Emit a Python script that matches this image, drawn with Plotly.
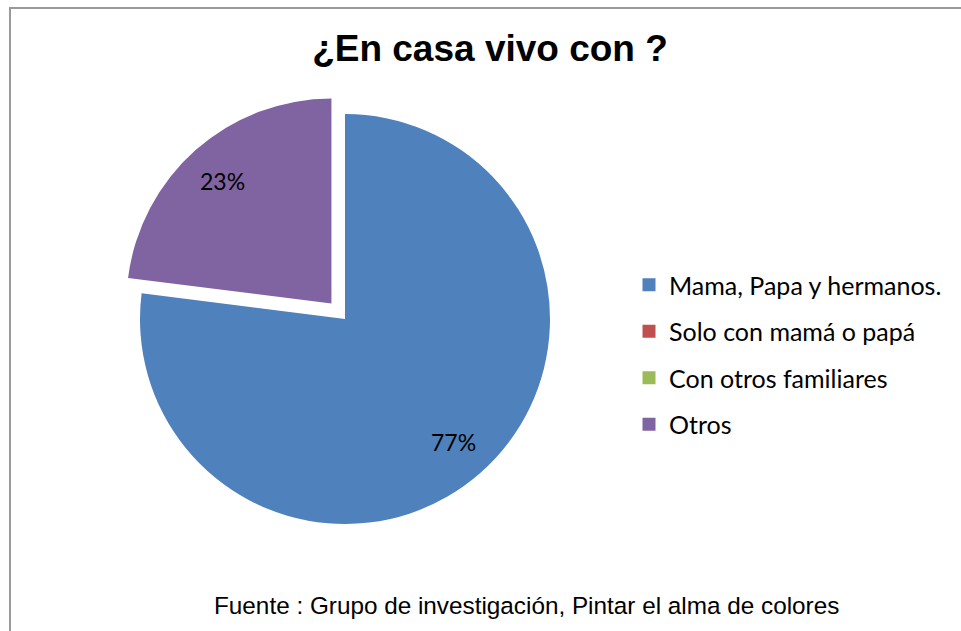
import math
import plotly.graph_objects as go

labels = ["Mama, Papa y hermanos.", "Solo con mamá o papá", "Con otros familiares", "Otros"]
values = [77, 0, 0, 23]
colors = ["#4F81BD", "#C0504D", "#9BBB59", "#8064A2"]
pulls = [0, 0, 0, 0.1]
title_text = "¿En casa vivo con ?"
source_text = "Fuente : Grupo de investigación, Pintar el alma de colores"

W, H = 961, 631
CX, CY, R = 345, 319, 205          # pie centre / radius in pixels
fig = go.Figure()

fig.add_trace(go.Pie(
    labels=labels, values=values, sort=False, direction="clockwise", rotation=0,
    marker=dict(colors=colors, line=dict(width=0)),
    pull=pulls,
    textinfo="none",
    hoverinfo="label+percent",
    showlegend=False,
    domain=dict(x=[(CX - R * 1.1) / W, (CX + R * 1.1) / W],
                y=[1 - (CY + R * 1.1) / H, 1 - (CY - R * 1.1) / H]),
))

# percentage labels placed along each slice's bisector
total = sum(values)
cum = 0
for v, p in zip(values, pulls):
    if v > 0:
        f = (cum + v / 2) / total
        th = 2 * math.pi * f
        rr = (0.8 + p) * R
        px = CX + math.sin(th) * rr
        py = CY - math.cos(th) * rr
        fig.add_annotation(text=f"{round(100 * v / total)}%", xref="paper", yref="paper",
                           x=px / W, y=1 - py / H, xanchor="center", yanchor="middle",
                           showarrow=False,
                           font=dict(family="Lato", size=23, color="#000000"))
    cum += v

for lab, col in zip(labels, colors):
    fig.add_trace(go.Scatter(
        x=[None], y=[None], mode="markers", name=lab, legendgroup=lab,
        marker=dict(symbol="square", size=13, color=col),
    ))

fig.add_shape(type="rect", xref="paper", yref="paper",
              x0=10 / W, x1=1.05, y0=-0.05, y1=1 - 8 / H,
              line=dict(color="#9A9A9A", width=2), fillcolor="rgba(0,0,0,0)")

fig.add_annotation(text=source_text, xref="paper", yref="paper",
                   x=526 / W, y=1 - 605 / H, xanchor="center", yanchor="middle",
                   showarrow=False, font=dict(family="Liberation Sans", size=24.3, color="#000000"))

fig.update_layout(
    width=W, height=H,
    margin=dict(l=0, r=0, t=0, b=0),
    paper_bgcolor="white", plot_bgcolor="white",
    title=dict(text="<b>" + title_text + "</b>", x=490 / W, y=1 - 48 / H,
               xanchor="center", yanchor="middle", xref="paper", yref="paper",
               font=dict(family="Liberation Sans", size=37, color="#000000")),
    xaxis=dict(visible=False), yaxis=dict(visible=False),
    legend=dict(x=629 / W, y=1 - 262 / H, xanchor="left", yanchor="top",
                font=dict(family="Lato", size=25, color="#000000"),
                tracegroupgap=11, itemwidth=30, bgcolor="rgba(0,0,0,0)"),
)

fig.write_html("out.html", config={"displayModeBar": False},
               post_script="document.body.style.margin='0';")
